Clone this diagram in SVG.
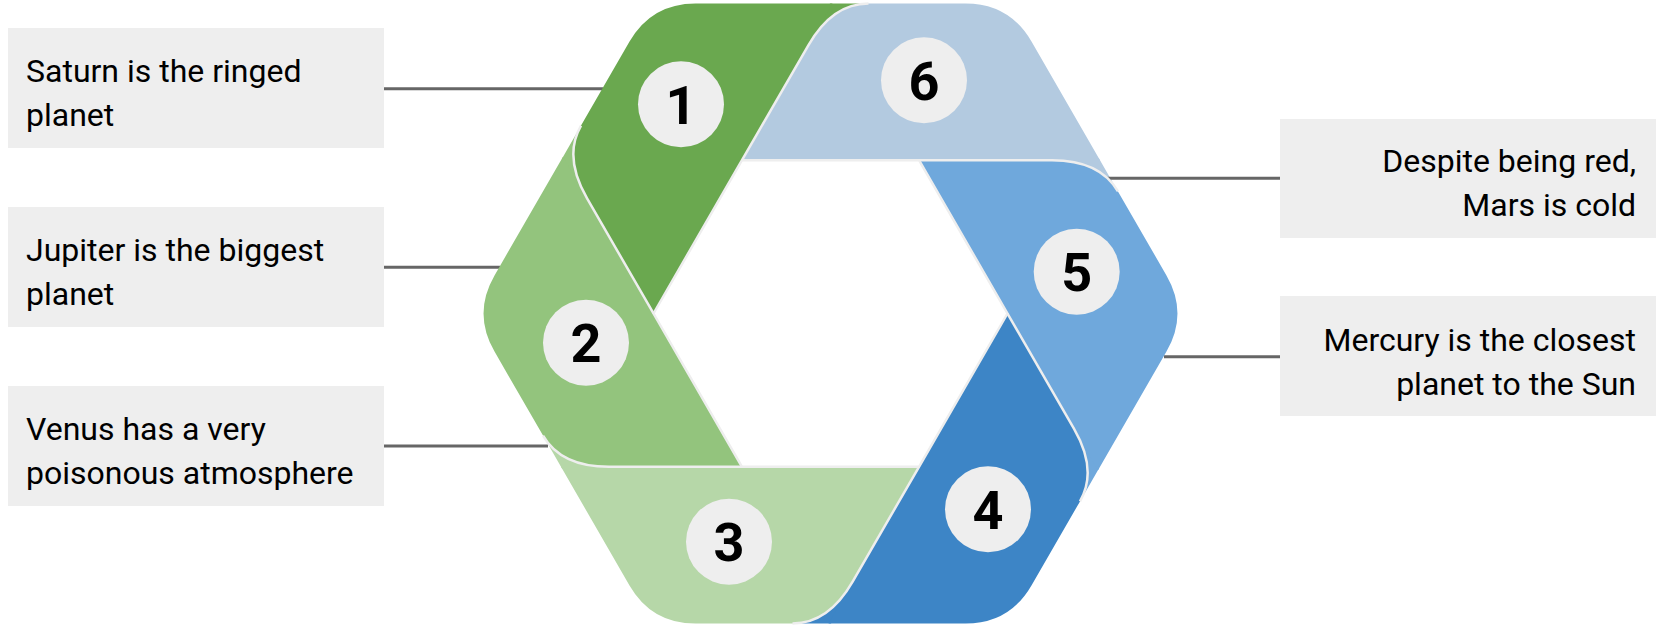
<svg xmlns="http://www.w3.org/2000/svg" width="1657" height="628" viewBox="0 0 1657 628">
  <style>
    .box { fill: #eeeeee; }
    .lbl { font-family: Roboto, "Liberation Sans", sans-serif; font-size: 32px; fill: #000000; }
    .lbl-r { text-anchor: end; }
    .conn { stroke: #666666; stroke-width: 3; fill: none; }
    .edge { stroke: #eeeeee; stroke-width: 2.5; fill: none; stroke-linejoin: round; }
    .badge { fill: #eeeeee; }
    .num { font-family: Roboto, "Liberation Sans", sans-serif; font-size: 54px; font-weight: bold; text-anchor: middle; fill: #000000; }
  </style>
  <defs>
    <path id="seg" d="M742,160.2 L808.5,45.1 Q832.5,3.5 868.5,3.5 L965.5,3.5 Q1009.5,3.5 1031.5,41.6 L1100,160.2 Z"/>
    <path id="sliver" d="M805.5,44.5 L830,3.5 L868.5,3.5 Q832.5,3.5 808.5,45.1 Z"/>
    <path id="segedge" d="M742,160.2 L808.5,45.1 Q832.5,3.5 868.5,3.5"/>
  </defs>

  <rect width="1657" height="628" fill="#ffffff"/>

  <!-- corner fills showing under the rounded corners -->
  <g id="ring-under">
    <use href="#sliver" fill="#6aa84f"/>
    <use href="#sliver" fill="#b3cae0" transform="rotate(60 830.5 313.5)"/>
    <use href="#sliver" fill="#6fa8dc" transform="rotate(120 830.5 313.5)"/>
    <use href="#sliver" fill="#3d85c6" transform="rotate(180 830.5 313.5)"/>
    <use href="#sliver" fill="#b6d7a8" transform="rotate(240 830.5 313.5)"/>
    <use href="#sliver" fill="#93c47d" transform="rotate(300 830.5 313.5)"/>
  </g>

  <g id="connectors">
    <line class="conn" x1="384" y1="88.7" x2="603" y2="88.7"/>
    <line class="conn" x1="384" y1="267.3" x2="500" y2="267.3"/>
    <line class="conn" x1="384" y1="446" x2="548" y2="446"/>
    <line class="conn" x1="1102" y1="178.3" x2="1280" y2="178.3"/>
    <line class="conn" x1="1164" y1="356.7" x2="1280" y2="356.7"/>
  </g>

  <g id="step-1">
    <use href="#seg" fill="#6aa84f" transform="rotate(300 830.5 313.5)"/>
    <circle class="badge" cx="681" cy="104.3" r="43"/>
    <text class="num" x="681" y="124">1</text>
  </g>
  <g id="step-2">
    <use href="#seg" fill="#93c47d" transform="rotate(240 830.5 313.5)"/>
    <circle class="badge" cx="586" cy="342.7" r="43"/>
    <text class="num" x="586" y="362.4">2</text>
  </g>
  <g id="step-3">
    <use href="#seg" fill="#b6d7a8" transform="rotate(180 830.5 313.5)"/>
    <circle class="badge" cx="729" cy="541.7" r="43"/>
    <text class="num" x="729" y="561.4">3</text>
  </g>
  <g id="step-4">
    <use href="#seg" fill="#3d85c6" transform="rotate(120 830.5 313.5)"/>
    <circle class="badge" cx="988" cy="509.3" r="43"/>
    <text class="num" x="988" y="529">4</text>
  </g>
  <g id="step-5">
    <use href="#seg" fill="#6fa8dc" transform="rotate(60 830.5 313.5)"/>
    <circle class="badge" cx="1076.7" cy="271.7" r="43"/>
    <text class="num" x="1076.7" y="291.4">5</text>
  </g>
  <g id="step-6">
    <use href="#seg" fill="#b3cae0"/>
    <circle class="badge" cx="924" cy="80.3" r="43"/>
    <text class="num" x="924" y="100">6</text>
  </g>

  <g id="ring-edges">
    <polygon class="edge" points="1007.5,313.5 919,466.8 742,466.8 653.5,313.5 742,160.2 919,160.2"/>
    <use href="#segedge" class="edge"/>
    <use href="#segedge" class="edge" transform="rotate(60 830.5 313.5)"/>
    <use href="#segedge" class="edge" transform="rotate(120 830.5 313.5)"/>
    <use href="#segedge" class="edge" transform="rotate(180 830.5 313.5)"/>
    <use href="#segedge" class="edge" transform="rotate(240 830.5 313.5)"/>
    <use href="#segedge" class="edge" transform="rotate(300 830.5 313.5)"/>
  </g>

  <g id="label-1">
    <rect class="box" x="8" y="28" width="376" height="120"/>
    <text class="lbl" x="26" y="82">Saturn is the ringed</text>
    <text class="lbl" x="26" y="126">planet</text>
  </g>
  <g id="label-2">
    <rect class="box" x="8" y="207" width="376" height="120"/>
    <text class="lbl" x="26" y="261">Jupiter is the biggest</text>
    <text class="lbl" x="26" y="305">planet</text>
  </g>
  <g id="label-3">
    <rect class="box" x="8" y="386" width="376" height="120"/>
    <text class="lbl" x="26" y="440">Venus has a very</text>
    <text class="lbl" x="26" y="484">poisonous atmosphere</text>
  </g>
  <g id="label-6">
    <rect class="box" x="1280" y="119" width="376" height="119"/>
    <text class="lbl lbl-r" x="1636" y="172">Despite being red,</text>
    <text class="lbl lbl-r" x="1636" y="216">Mars is cold</text>
  </g>
  <g id="label-5">
    <rect class="box" x="1280" y="296" width="376" height="120"/>
    <text class="lbl lbl-r" x="1636" y="351">Mercury is the closest</text>
    <text class="lbl lbl-r" x="1636" y="395">planet to the Sun</text>
  </g>
</svg>
